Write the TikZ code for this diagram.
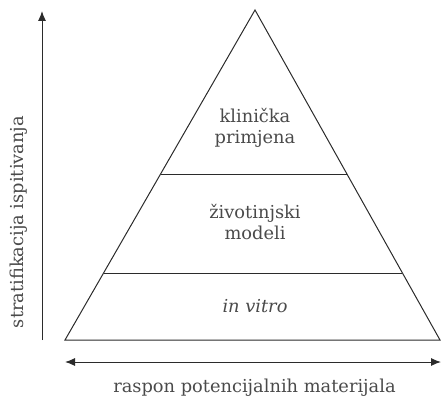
\documentclass[tikz,border=0pt]{standalone}
\usepackage{fontspec}
\setmainfont{DejaVu Serif}
\usepackage{tikz}
\usetikzlibrary{arrows.meta,positioning,calc}
\definecolor{Ink}{HTML}{2B2B2B}
\definecolor{TextGray}{HTML}{4A4A4A}

\begin{document}
\begin{tikzpicture}[x=1pt, y=1pt, >={Latex[length=10pt,width=8pt]}, font=\fontsize{17.8}{21}\selectfont]
\tikzset{edge/.style={draw=Ink, line width=1pt}, lbl/.style={text=TextGray, align=center, inner sep=0pt}}
\useasboundingbox (0,0) rectangle (441,397);
% pyramid corners
\coordinate (apex) at (255,387);
\coordinate (bl) at (65,57);
\coordinate (br) at (440,57);
\draw[edge, line join=miter] (bl) -- (apex) -- (br) -- cycle;
% layer borders
\coordinate (l1) at ($(apex)!0.497!(bl)$); \coordinate (r1) at ($(apex)!0.497!(br)$);
\coordinate (l2) at ($(apex)!0.797!(bl)$); \coordinate (r2) at ($(apex)!0.797!(br)$);
\draw[edge] (l1) -- (r1);
\draw[edge] (l2) -- (r2);
% layer texts
\node[lbl] (top) at (255,269) {klinička\\primjena};
\node[lbl] (mid) at (255,175) {životinjski\\modeli};
\node[lbl, anchor=base] (low) at (255,85) {\itshape in vitro};
% axes
\coordinate (ybot) at (42,57); \coordinate (ytop) at (42,386);
\draw[edge, ->] (ybot) -- (ytop);
\coordinate (xl) at (65,35); \coordinate (xr) at (441,35);
\draw[edge, <->] (xl) -- (xr);
\node[lbl, rotate=90, anchor=base] (ylab) at (23,175) {stratifikacija ispitivanja};
\node[lbl, anchor=base] (xlab) at (254.5,5) {raspon potencijalnih materijala};
\end{tikzpicture}
\end{document}
